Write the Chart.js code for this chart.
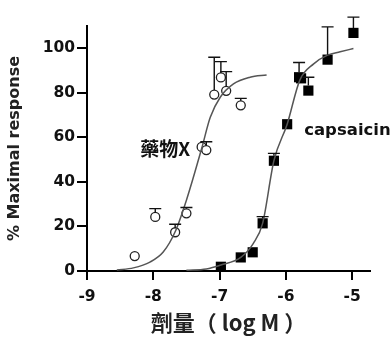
<!DOCTYPE html>
<html>
<head>
<meta charset="utf-8">
<script src="https://cdn.jsdelivr.net/npm/chart.js@4"></script>
<style>
  html, body { margin: 0; padding: 0; background: #fff; }
  #wrap { width: 392px; height: 351px; position: relative; }
</style>
</head>
<body>
<div id="wrap"><canvas id="c" width="392" height="351"></canvas></div>
<script>
// ---- data ----
const xTicks = [-9, -8, -7, -6, -5];
const yTicks = [0, 20, 40, 60, 80, 100];

const drugLabel = '藥物X';
const capLabel = 'capsaicin';
const xTitle = '劑量（ log M ）';
const yTitle = '% Maximal response';

// drug X observed points (open circles)
const drugX    = [-8.28, -7.97, -7.67, -7.50, -7.27, -7.20, -7.08, -6.98, -6.90, -6.68];
const drugY    = [ 6.7,  24.3,  17.4,  25.9,  55.7,  54.3,  79.2,  86.9,  80.9,  74.4];
const drugErr  = [ null, 28,    21,    28.5,  null,  58,    96,    94,    89.5,  77.5];

// capsaicin observed points (filled squares)
const capX     = [-6.98, -6.68, -6.50, -6.35, -6.18, -5.98, -5.80, -5.77, -5.66, -5.37, -4.98];
const capY     = [ 1.9,   6.1,   8.4,   21.4,  49.5,  65.9,  87.0,  86.5,  81.0,  94.9, 106.9];
const capErr   = [ null,  null,  null,  24.4,  52.8,  null,  93.6,  null,  87.0, 109.6, 114.0];

// fitted curves
const drugCurveX = [-8.55, -8.30, -8.05, -7.85, -7.67, -7.50, -7.27, -7.14, -6.99, -6.79, -6.54, -6.29];
const drugCurveY = [ 0.4,   1.4,   4.0,   8.5,  17.6,  31.8,  55.0,  69.0,  78.0,  84.0,  87.0,  88.0];
const capCurveX  = [-7.50, -7.20, -6.98, -6.68, -6.49, -6.35, -6.18, -5.98, -5.79, -5.58, -5.37, -5.18, -4.98];
const capCurveY  = [ 0.3,   0.9,   2.7,   6.1,  12.4,  21.4,  49.5,  65.9,  85.6,  93.0,  96.9,  98.4,  99.9];

// label anchor positions (data coordinates)
const drugLabelAt = [-7.82, 55];
const capLabelAt  = [-5.07, 63];

const pts = (xs, ys) => xs.map((x, i) => ({x, y: ys[i]}));

const errorBars = {
  id: 'errorBars',
  afterDatasetsDraw(chart) {
    const {ctx, scales: {x, y}} = chart;
    ctx.save();
    ctx.strokeStyle = '#111';
    ctx.lineWidth = 1.4;
    const draw = (xs, ys, es, offset) => {
      xs.forEach((xv, i) => {
        if (es[i] == null) return;
        const px = x.getPixelForValue(xv);
        const py0 = y.getPixelForValue(ys[i]) - offset;
        const py1 = y.getPixelForValue(es[i]);
        ctx.beginPath();
        ctx.moveTo(px, py0); ctx.lineTo(px, py1);
        ctx.moveTo(px - 6, py1); ctx.lineTo(px + 6, py1);
        ctx.stroke();
      });
    };
    draw(drugX, drugY, drugErr, 4.5);
    draw(capX, capY, capErr, 5);
    ctx.restore();
  }
};

const seriesLabels = {
  id: 'seriesLabels',
  afterDraw(chart) {
    const {ctx, scales: {x, y}} = chart;
    ctx.save();
    ctx.fillStyle = '#111';
    ctx.textAlign = 'center';
    ctx.textBaseline = 'middle';
    ctx.font = 'bold 19px "Noto Sans CJK TC", "DejaVu Sans"';
    ctx.fillText(drugLabel, x.getPixelForValue(drugLabelAt[0]), y.getPixelForValue(drugLabelAt[1]));
    ctx.font = 'bold 16.5px "DejaVu Sans"';
    ctx.fillText(capLabel, x.getPixelForValue(capLabelAt[0]), y.getPixelForValue(capLabelAt[1]));
    ctx.restore();
  }
};

new Chart(document.getElementById('c'), {
  type: 'scatter',
  data: {
    datasets: [
      { type: 'line', data: pts(drugCurveX, drugCurveY), borderColor: '#555', borderWidth: 1.5,
        pointRadius: 0, cubicInterpolationMode: 'monotone', fill: false },
      { type: 'line', data: pts(capCurveX, capCurveY), borderColor: '#555', borderWidth: 1.5,
        pointRadius: 0, cubicInterpolationMode: 'monotone', fill: false },
      { data: pts(drugX, drugY), pointStyle: 'circle', pointRadius: 4.5,
        backgroundColor: '#fff', borderColor: '#222', borderWidth: 1.3 },
      { data: pts(capX, capY), pointStyle: 'rect', pointRadius: 7.2,
        backgroundColor: '#000', borderColor: '#000', borderWidth: 0 }
    ]
  },
  options: {
    responsive: false,
    animation: false,
    events: [],
    layout: { padding: { top: 26, right: 22, left: 0, bottom: 0 } },
    plugins: { legend: { display: false }, tooltip: { enabled: false } },
    scales: {
      x: {
        type: 'linear', min: -9, max: -4.73,
        afterFit(s) { s.height = 80; },
        afterBuildTicks(s) { s.ticks = xTicks.map(v => ({value: v})); },
        grid: { display: true, drawOnChartArea: false, drawTicks: true, tickLength: 9, color: '#000', lineWidth: 2 },
        border: { display: true, color: '#000', width: 2 },
        ticks: { color: '#111', padding: 8, font: { family: 'DejaVu Sans', weight: 'bold', size: 15.5 } },
        title: { display: true, text: xTitle, color: '#222',
                 font: { family: '"Noto Sans CJK TC"', weight: 'bold', size: 22 },
                 padding: { top: 0, bottom: 15 } }
      },
      y: {
        type: 'linear', min: 0, max: 110,
        afterFit(s) { s.width = 87; },
        afterBuildTicks(s) { s.ticks = yTicks.map(v => ({value: v})); },
        grid: { display: true, drawOnChartArea: false, drawTicks: true, tickLength: 10, color: '#000', lineWidth: 2 },
        border: { display: true, color: '#000', width: 2 },
        ticks: { color: '#111', padding: 2, font: { family: 'DejaVu Sans', weight: 'bold', size: 15.5 } },
        title: { display: true, text: yTitle, color: '#222',
                 font: { family: 'DejaVu Sans', weight: 'bold', size: 16 },
                 padding: { top: 5, bottom: 0 } }
      }
    }
  },
  plugins: [errorBars, seriesLabels]
});
</script>
</body>
</html>
